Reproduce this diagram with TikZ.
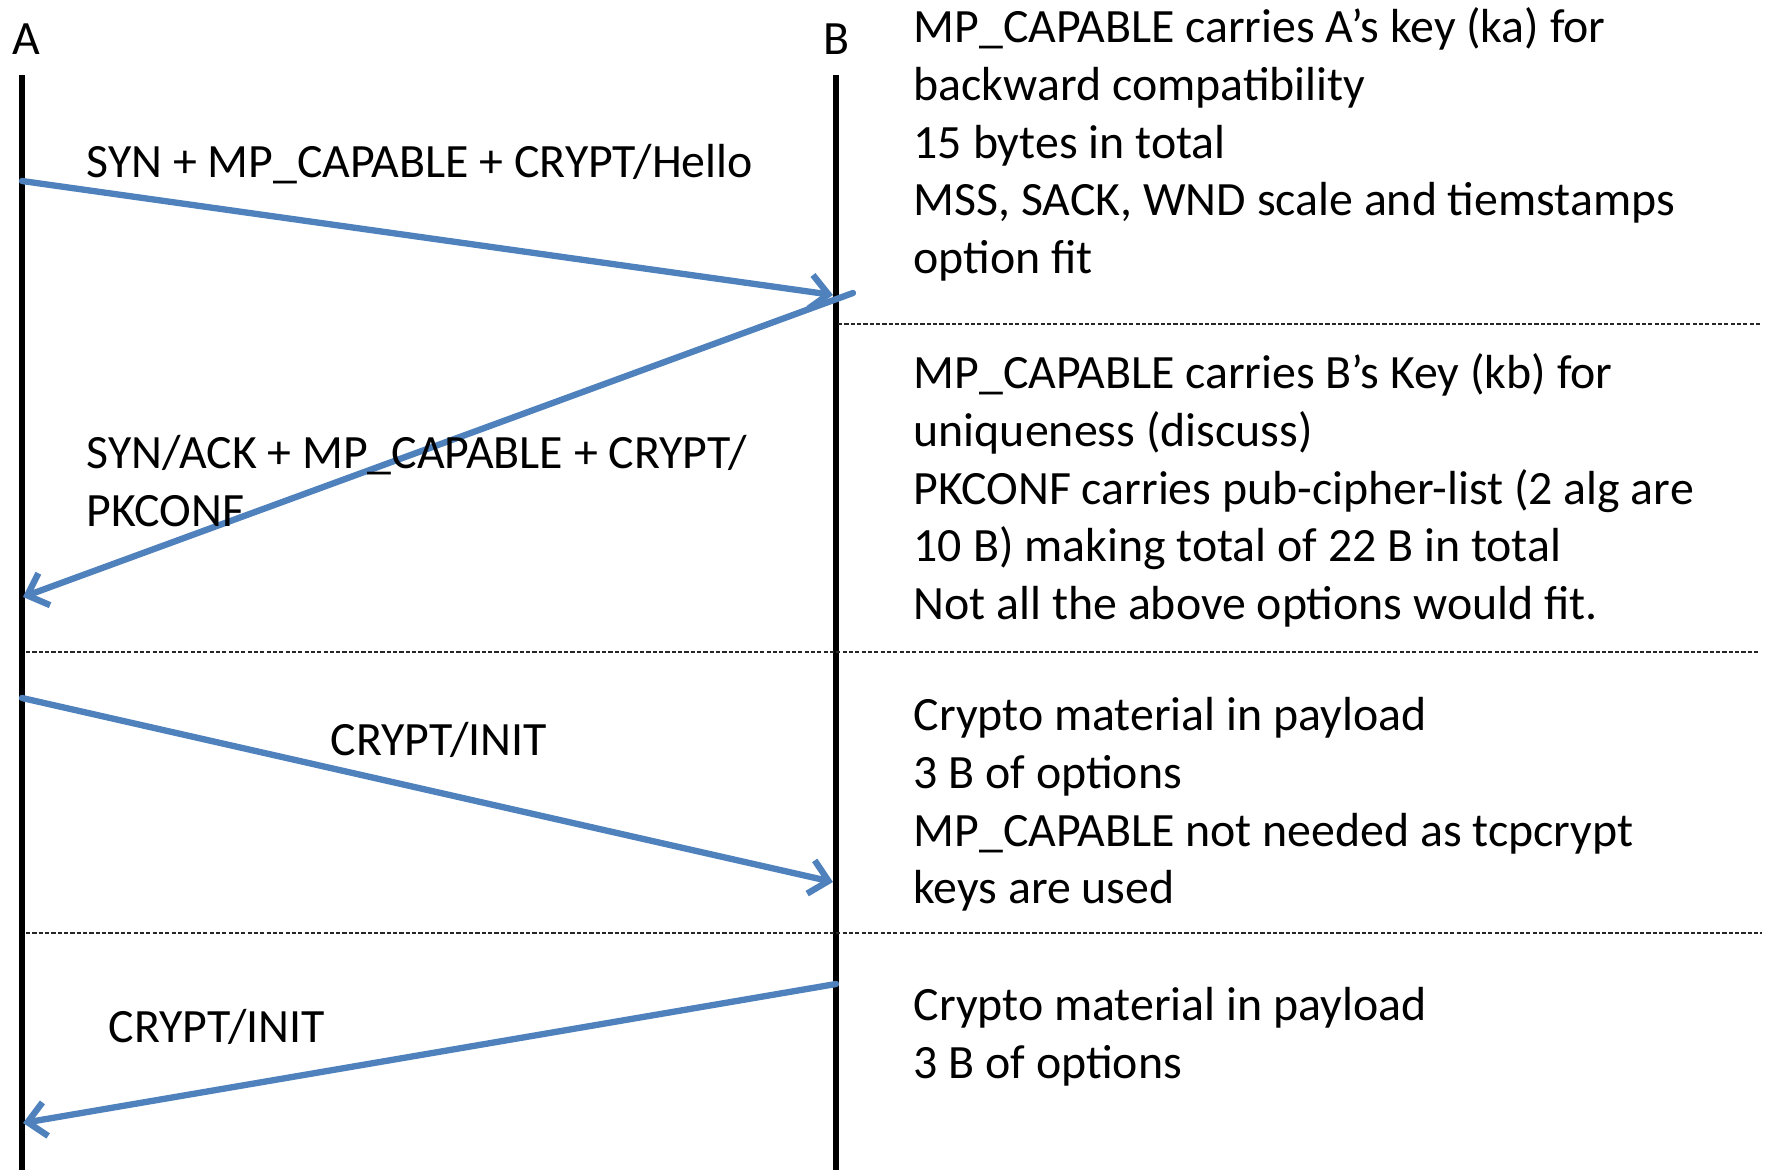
\documentclass[tikz,border=0pt]{standalone}
\usepackage{fontspec}
\setmainfont{Carlito}
\usetikzlibrary{arrows.meta}
\definecolor{msgblue}{RGB}{79,129,189}
\tikzset{
  msg/.style={draw=msgblue, line width=1.8pt, ->, line cap=round},
  life/.style={draw=black, line width=1.6pt},
  sep/.style={draw=black!85, line width=0.4pt, dash pattern=on 1.2pt off 0.6pt},
  note/.style={anchor=north west, inner sep=0pt, align=left},
  lbl/.style={anchor=base west, inner sep=0pt}
}
\begin{document}
\begin{tikzpicture}[x=0.01cm, y=-0.01cm, >={Straight Barb[length=1.8mm,width=3.4mm]}, font=\fontsize{13.6}{16.36}\selectfont]
\useasboundingbox (0,0) rectangle (1765,1170);
\node[inner sep=0pt, anchor=base] (A) at (26,55) {A};
\node[inner sep=0pt, anchor=base] (B) at (837,55) {B};
\coordinate (Atop) at (22,75);
\coordinate (Abot) at (22,1170);
\coordinate (Btop) at (836,75);
\coordinate (Bbot) at (836,1170);
\draw[life] (Atop) -- (Abot);
\draw[life] (Btop) -- (Bbot);
\coordinate (a1) at (22,181);
\coordinate (b1) at (833,295);
\coordinate (b2) at (853,293);
\coordinate (a2) at (23,597);
\coordinate (a3) at (22,698);
\coordinate (b3) at (833,882);
\coordinate (b4) at (836,984);
\coordinate (a4) at (23,1123);
\draw[msg] (a1) -- (b1);
\draw[msg] (b2) -- (a2);
\draw[msg] (a3) -- (b3);
\draw[msg] (b4) -- (a4);
\coordinate (s1l) at (838,324);
\coordinate (s1r) at (1760,324);
\coordinate (s2l) at (26,652);
\coordinate (s2r) at (1760,652);
\coordinate (s3l) at (26,933);
\coordinate (s3r) at (1762,933);
\draw[sep] (s1l) -- (s1r);
\draw[sep] (s2l) -- (s2r);
\draw[sep] (s3l) -- (s3r);
\node[lbl] (m1) at (86,178) {SYN + MP\_CAPABLE + CRYPT/Hello};
\node[note] (m2) at (86,428) {\strut SYN/ACK + MP\_CAPABLE + CRYPT/\\PKCONF};
\node[lbl] (m3) at (330,756) {CRYPT/INIT};
\node[lbl] (m4) at (108,1042) {CRYPT/INIT};
\node[note] (n1) at (913,2) {\strut MP\_CAPABLE carries A’s key (ka) for\\backward compatibility\\15 bytes in total\\MSS, SACK, WND scale and tiemstamps\\option fit};
\node[note] (n2) at (913,348) {\strut MP\_CAPABLE carries B’s Key (kb) for\\uniqueness (discuss)\\PKCONF carries pub-cipher-list (2 alg are\\10 B) making total of 22 B in total\\Not all the above options would fit.};
\node[note] (n3) at (913,690) {\strut Crypto material in payload\\3 B of options\\MP\_CAPABLE not needed as tcpcrypt\\keys are used};
\node[note] (n4) at (913,980) {\strut Crypto material in payload\\3 B of options};
\end{tikzpicture}
\end{document}
